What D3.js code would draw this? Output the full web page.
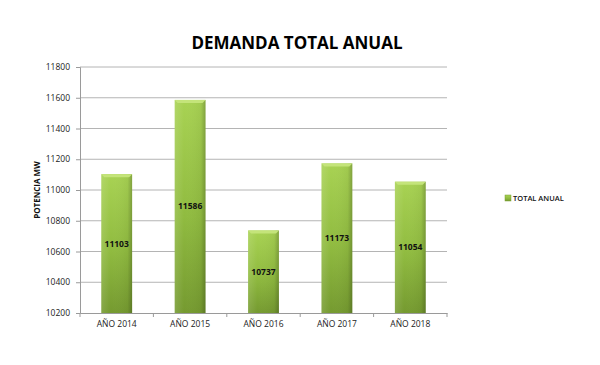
<!DOCTYPE html>
<html>
<head>
<meta charset="utf-8">
<script src="https://cdn.jsdelivr.net/npm/d3@7"></script>
<style>
  body { margin: 0; background: #fff; }
  svg text { font-family: "Open Sans", "Liberation Sans", sans-serif; }
</style>
</head>
<body>
<svg id="chart" width="600" height="365"></svg>
<script>
// data
var years = ["AÑO 2014", "AÑO 2015", "AÑO 2016", "AÑO 2017", "AÑO 2018"];
var totals = [11103, 11586, 10737, 11173, 11054];
var yTicks = [10200, 10400, 10600, 10800, 11000, 11200, 11400, 11600, 11800];
var seriesName = "TOTAL ANUAL";

var svg = d3.select("#chart"),
    margin = {left: 80, right: 153, top: 67, bottom: 52},
    width = +svg.attr("width") - margin.left - margin.right,
    height = +svg.attr("height") - margin.top - margin.bottom;

var defs = svg.append("defs");
var grad = defs.append("linearGradient").attr("id", "barGrad")
  .attr("x1", 0).attr("y1", 0).attr("x2", 0).attr("y2", 1);
grad.append("stop").attr("offset", "0%").attr("stop-color", "#a8d253");
grad.append("stop").attr("offset", "55%").attr("stop-color", "#90bb40");
grad.append("stop").attr("offset", "100%").attr("stop-color", "#759a30");

var side = defs.append("linearGradient").attr("id", "sideGrad")
  .attr("x1", 0).attr("y1", 0).attr("x2", 1).attr("y2", 0);
side.append("stop").attr("offset", "0%").attr("stop-color", "#fff").attr("stop-opacity", 0.12);
side.append("stop").attr("offset", "30%").attr("stop-color", "#fff").attr("stop-opacity", 0);
side.append("stop").attr("offset", "85%").attr("stop-color", "#000").attr("stop-opacity", 0.04);
side.append("stop").attr("offset", "100%").attr("stop-color", "#000").attr("stop-opacity", 0.22);

var g = svg.append("g").attr("transform", "translate(" + margin.left + "," + margin.top + ")");

var x = d3.scaleBand().domain(years).range([0, width]).paddingInner(0.58).paddingOuter(0.29);
var y = d3.scaleLinear().domain([10200, 11800]).range([height, 0]);

// gridlines
g.append("g").selectAll("line")
  .data(yTicks.slice(1))
  .enter().append("line")
  .attr("x1", 0).attr("x2", width)
  .attr("y1", function(d) { return y(d); })
  .attr("y2", function(d) { return y(d); })
  .attr("stroke", "#b4b4b4").attr("stroke-width", 1);

// y axis
var yAxis = g.append("g")
  .call(d3.axisLeft(y).tickValues(yTicks).tickSize(4).tickPadding(6).tickFormat(d3.format("d")));
yAxis.select(".domain").attr("stroke", "#9a9a9a");
yAxis.selectAll(".tick line").attr("stroke", "#9a9a9a");
yAxis.selectAll("text").attr("font-size", 8.5).attr("fill", "#222");

// x axis
var xAxis = g.append("g").attr("transform", "translate(0," + height + ")")
  .call(d3.axisBottom(x).tickSize(0).tickPadding(8));
xAxis.select(".domain").attr("stroke", "#9a9a9a");
xAxis.selectAll("text").attr("font-size", 8.5).attr("fill", "#222");
// tick marks between categories
var step = x.step();
xAxis.selectAll(".sep").data(d3.range(years.length + 1)).enter().append("line")
  .attr("x1", function(i) { return i * step; })
  .attr("x2", function(i) { return i * step; })
  .attr("y1", 0).attr("y2", 4).attr("stroke", "#9a9a9a");

// bars
var cap = 3;
var bars = g.selectAll(".bar")
  .data(years.map(function(d, i) { return {year: d, value: totals[i]}; }))
  .enter().append("g").attr("class", "bar");

bars.append("rect")
  .attr("x", function(d) { return x(d.year); })
  .attr("y", function(d) { return y(d.value); })
  .attr("width", x.bandwidth())
  .attr("height", function(d) { return height - y(d.value); })
  .attr("fill", "url(#barGrad)");

bars.append("rect")
  .attr("x", function(d) { return x(d.year); })
  .attr("y", function(d) { return y(d.value); })
  .attr("width", x.bandwidth())
  .attr("height", function(d) { return height - y(d.value); })
  .attr("fill", "url(#sideGrad)");

// top bevel
bars.append("path")
  .attr("d", function(d) {
    var x0 = x(d.year), x1 = x0 + x.bandwidth(), y0 = y(d.value);
    return "M" + x0 + "," + y0 + "L" + x1 + "," + y0 + "L" + (x1 - cap) + "," + (y0 + cap) +
      "L" + (x0 + cap) + "," + (y0 + cap) + "Z";
  })
  .attr("fill", "#c4e47a");

bars.append("text")
  .attr("x", function(d) { return x(d.year) + x.bandwidth() / 2; })
  .attr("y", function(d) { return (y(d.value) + height) / 2; })
  .attr("dy", "0.35em")
  .attr("text-anchor", "middle")
  .attr("font-size", 8.5).attr("font-weight", "bold").attr("fill", "#111")
  .text(function(d) { return d.value; });

// titles
svg.append("text")
  .attr("x", 297).attr("y", 49)
  .attr("text-anchor", "middle")
  .attr("font-size", 17).attr("font-weight", "bold").attr("fill", "#000")
  .text("DEMANDA TOTAL ANUAL");

svg.append("text")
  .attr("transform", "translate(40," + (margin.top + height / 2) + ") rotate(-90)")
  .attr("text-anchor", "middle")
  .attr("font-size", 8).attr("font-weight", "bold").attr("fill", "#111")
  .text("POTENCIA MW");

// legend
var lg = svg.append("g").attr("transform", "translate(505,195)");
lg.append("rect").attr("width", 6).attr("height", 6).attr("fill", "url(#barGrad)").attr("stroke", "#7a9e32").attr("stroke-width", 0.5);
lg.append("text").attr("x", 8).attr("y", 6).attr("font-size", 7.5).attr("font-weight", 600).attr("fill", "#111").text(seriesName);
</script>
</body>
</html>
